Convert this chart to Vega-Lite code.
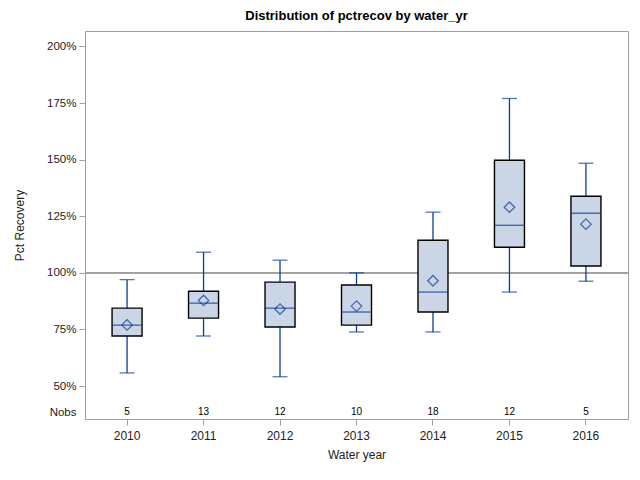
{
  "$schema": "https://vega.github.io/schema/vega-lite/v6.json",
  "width": 543,
  "height": 388,
  "autosize": {"type": "none"},
  "padding": {"left": 85, "top": 31, "right": 12, "bottom": 61},
  "background": "white",
  "title": {
    "text": "Distribution of pctrecov by water_yr",
    "font": "Liberation Sans",
    "fontSize": 13,
    "fontWeight": "bold",
    "color": "black",
    "anchor": "middle",
    "offset": 8
  },
  "config": {
    "view": {"stroke": "#a0a0a0", "strokeWidth": 1},
    "font": "Liberation Sans",
    "axis": {
      "labelFont": "Liberation Sans",
      "titleFont": "Liberation Sans",
      "labelColor": "#222222",
      "titleColor": "#222222",
      "titleFontWeight": "normal",
      "domainColor": "#a0a0a0",
      "tickColor": "#a0a0a0",
      "grid": false
    }
  },
  "data": {
    "values": [
      {"water_yr": "2010", "low": 55.8, "q1": 72.1, "median": 76.9, "q3": 84.4, "high": 97.0, "mean": 77.0, "nobs": 5},
      {"water_yr": "2011", "low": 72.1, "q1": 80.0, "median": 86.6, "q3": 91.9, "high": 109.1, "mean": 87.8, "nobs": 13},
      {"water_yr": "2012", "low": 54.1, "q1": 76.1, "median": 84.4, "q3": 95.9, "high": 105.6, "mean": 84.0, "nobs": 12},
      {"water_yr": "2013", "low": 73.9, "q1": 76.9, "median": 82.7, "q3": 94.6, "high": 100.0, "mean": 85.3, "nobs": 10},
      {"water_yr": "2014", "low": 73.9, "q1": 82.7, "median": 91.5, "q3": 114.4, "high": 126.8, "mean": 96.5, "nobs": 18},
      {"water_yr": "2015", "low": 91.5, "q1": 111.3, "median": 121.0, "q3": 149.7, "high": 177.0, "mean": 129.0, "nobs": 12},
      {"water_yr": "2016", "low": 96.3, "q1": 103.0, "median": 126.3, "q3": 133.8, "high": 148.4, "mean": 121.5, "nobs": 5}
    ]
  },
  "encoding": {
    "x": {
      "field": "water_yr",
      "type": "nominal",
      "scale": {"type": "band", "paddingInner": 0, "paddingOuter": 0.05},
      "axis": {
        "title": "Water year",
        "labelAngle": 0,
        "labelFontSize": 12,
        "titleFontSize": 12,
        "tickSize": 6,
        "labelPadding": 5,
        "titlePadding": 8
      }
    }
  },
  "layer": [
    {
      "mark": {"type": "rule", "color": "#a0a0a0", "strokeWidth": 1},
      "encoding": {
        "x": null,
        "y": {
          "datum": 100,
          "type": "quantitative",
          "scale": {"domain": [35.45, 206.8], "nice": false, "zero": false},
          "axis": {
            "title": "Pct Recovery",
            "values": [38.5, 50, 75, 100, 125, 150, 175, 200],
            "labelExpr": "datum.value < 45 ? 'Nobs' : datum.value + '%'",
            "labelFontSize": 11.5,
            "titleFontSize": 12,
            "tickSize": 6,
            "tickOpacity": {"condition": {"test": "datum.value < 45", "value": 0}, "value": 1},
            "labelPadding": 3,
            "titlePadding": 20
          }
        }
      }
    },
    {
      "mark": {"type": "rule", "color": "#0a3c9c", "strokeWidth": 1.3},
      "encoding": {
        "y": {"field": "low", "type": "quantitative"},
        "y2": {"field": "high"}
      }
    },
    {
      "mark": {"type": "tick", "color": "#0a3c9c", "size": 15, "thickness": 1.3},
      "encoding": {"y": {"field": "low", "type": "quantitative"}}
    },
    {
      "mark": {"type": "tick", "color": "#0a3c9c", "size": 15, "thickness": 1.3},
      "encoding": {"y": {"field": "high", "type": "quantitative"}}
    },
    {
      "mark": {"type": "bar", "size": 30, "fill": "#cad5e5", "stroke": "black", "strokeWidth": 1.4},
      "encoding": {
        "y": {"field": "q1", "type": "quantitative"},
        "y2": {"field": "q3"}
      }
    },
    {
      "mark": {"type": "tick", "color": "#0a3c9c", "size": 29, "thickness": 1.4},
      "encoding": {"y": {"field": "median", "type": "quantitative"}}
    },
    {
      "mark": {"type": "point", "shape": "diamond", "filled": false, "color": "#0a3c9c", "size": 110, "strokeWidth": 1.3},
      "encoding": {"y": {"field": "mean", "type": "quantitative"}}
    },
    {
      "mark": {"type": "text", "fontSize": 10, "color": "black", "baseline": "middle"},
      "encoding": {
        "y": {"datum": 38.5, "type": "quantitative"},
        "text": {"field": "nobs", "type": "quantitative"}
      }
    }
  ]
}
